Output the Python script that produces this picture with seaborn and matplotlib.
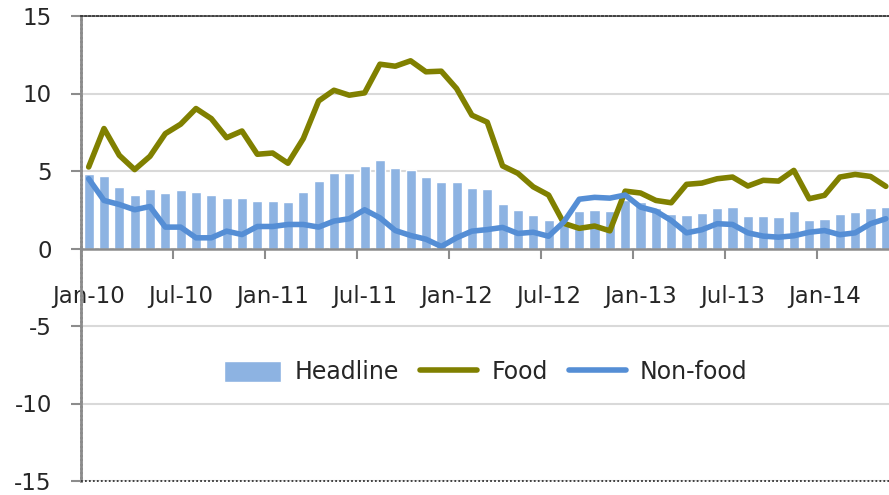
import numpy as np
import pandas as pd
import matplotlib
matplotlib.use('Agg')
import matplotlib.pyplot as plt
import seaborn as sns

# monthly inflation, Jan-10 .. May-14 (% y/y)
months = pd.date_range('2010-01-01', periods=53, freq='MS').strftime('%b-%y').tolist()

headline = [4.78, 4.67, 3.96, 3.47, 3.86, 3.56, 3.75, 3.66, 3.47, 3.28, 3.28, 3.06,
            3.06, 2.97, 3.64, 4.37, 4.87, 4.89, 5.32, 5.69, 5.17, 5.04, 4.61, 4.31,
            4.29, 3.90, 3.84, 2.84, 2.46, 2.19, 1.81, 1.50, 2.41, 2.50, 2.39, 3.10,
            2.99, 2.63, 2.24, 2.18, 2.28, 2.63, 2.65, 2.11, 2.11, 2.05, 2.39, 1.81,
            1.92, 2.20, 2.35, 2.61, 2.65]

food = [5.26, 7.74, 6.01, 5.09, 5.95, 7.41, 8.02, 9.03, 8.38, 7.15, 7.58, 6.08,
        6.16, 5.50, 7.09, 9.52, 10.21, 9.89, 10.04, 11.89, 11.76, 12.11, 11.40, 11.44,
        10.32, 8.60, 8.15, 5.33, 4.85, 3.98, 3.45, 1.62, 1.30, 1.45, 1.14, 3.70,
        3.58, 3.10, 2.95, 4.14, 4.22, 4.50, 4.61, 4.03, 4.40, 4.35, 5.04, 3.21,
        3.43, 4.61, 4.78, 4.65, 4.01]

non_food = [4.50, 3.10, 2.84, 2.50, 2.71, 1.38, 1.38, 0.69, 0.69, 1.12, 0.90, 1.42,
            1.42, 1.55, 1.55, 1.38, 1.77, 1.92, 2.50, 1.98, 1.16, 0.84, 0.60, 0.13,
            0.69, 1.12, 1.22, 1.36, 0.97, 1.05, 0.79, 1.72, 3.18, 3.30, 3.25, 3.45,
            2.67, 2.41, 1.81, 1.01, 1.21, 1.60, 1.55, 1.01, 0.80, 0.73, 0.82, 1.05,
            1.16, 0.89, 1.01, 1.60, 1.92]

df = pd.DataFrame({'idx': np.arange(len(months)), 'month': months,
                   'Headline': headline, 'Food': food, 'Non-food': non_food})

sns.set_style('white')
plt.rcParams['font.family'] = ['DejaVu Sans']
plt.rcParams['axes.unicode_minus'] = False

fig = plt.figure(figsize=(8.89, 4.95), dpi=100)
n = len(months)
ax = fig.add_axes([81 / 889, 14 / 495, (n * 15.33) / 889, 465 / 495])

sns.barplot(data=df, x='idx', y='Headline', native_scale=True, width=0.66,
            color='#8DB3E2', saturation=1, ax=ax, label='Headline', zorder=2)
sns.lineplot(data=df, x='idx', y='Food', color='#808000', lw=4, ax=ax,
             label='Food', zorder=3)
sns.lineplot(data=df, x='idx', y='Non-food', color='#558ED5', lw=4, ax=ax,
             label='Non-food', zorder=4)

ax.set_xlim(-0.5, n - 0.5)
ax.set_ylim(-15, 15)
ax.set_xlabel('')
ax.set_ylabel('')

# y axis
ax.set_yticks([-15, -10, -5, 0, 5, 10, 15])
ax.tick_params(axis='y', length=7, width=1.5, color='#8C8C8C', pad=14,
               labelsize=16.5, left=True)
ax.grid(axis='y', color='#D9D9D9', lw=1.5)
ax.grid(axis='x', visible=False)
ax.set_axisbelow(True)

# x axis: tick marks between categories, labels on categories
ax.set_xticks(np.arange(-0.5, n, 6))
ax.set_xticklabels([])
ax.set_xticks(np.arange(0, n, 6), minor=True)
ax.set_xticklabels(months[::6], minor=True)
ax.tick_params(axis='x', which='major', length=7, width=1.5, color='#8C8C8C',
               direction='out', bottom=True)
ax.tick_params(axis='x', which='minor', length=0, pad=26, labelsize=16.5)

ax.spines['bottom'].set_position(('data', 0))
ax.spines['bottom'].set_color('#8C8C8C')
ax.spines['bottom'].set_linewidth(1.8)
ax.spines['bottom'].set_zorder(5)
ax.spines['left'].set_color('#8C8C8C')
ax.spines['left'].set_linewidth(2)
ax.spines['left'].set_linestyle((0, (1, 0.6)))
ax.spines['top'].set_color('#333333')
ax.spines['top'].set_linewidth(1.3)
ax.spines['top'].set_linestyle((0, (1, 1.2)))
ax.spines['right'].set_visible(False)
ax.axhline(-15, color='#333333', lw=1.3, ls=(0, (1, 1.2)), clip_on=False, zorder=5)

handles, labels = ax.get_legend_handles_labels()
order = [labels.index(k) for k in ['Headline', 'Food', 'Non-food']]
ax.legend([handles[i] for i in order], [labels[i] for i in order],
          loc='center', bbox_to_anchor=(0.498, 0.234), ncol=3,
          frameon=False, fontsize=17, handlelength=2.4, handleheight=1.0,
          handletextpad=0.6, columnspacing=0.9)

fig.savefig('out.png', dpi=100)
